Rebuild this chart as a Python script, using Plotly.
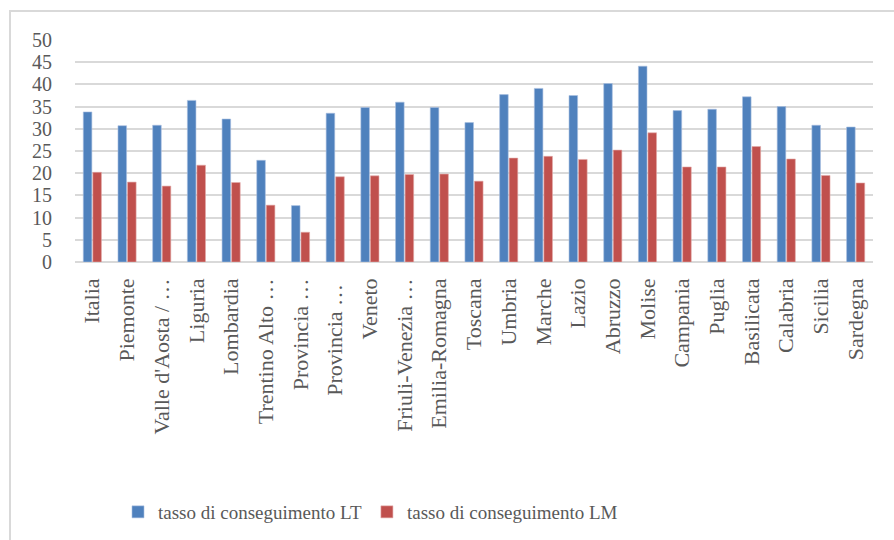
import plotly.graph_objects as go

categories = ["Italia", "Piemonte", "Valle d'Aosta / …", "Liguria", "Lombardia",
              "Trentino Alto …", "Provincia …", "Provincia … ", "Veneto",
              "Friuli-Venezia …", "Emilia-Romagna", "Toscana", "Umbria", "Marche",
              "Lazio", "Abruzzo", "Molise", "Campania", "Puglia", "Basilicata",
              "Calabria", "Sicilia", "Sardegna"]

tasso_LT = [33.8, 30.7, 30.8, 36.4, 32.2, 22.9, 12.7, 33.5, 34.8, 36.0, 34.8,
            31.4, 37.7, 39.1, 37.5, 40.2, 44.1, 34.1, 34.4, 37.2, 35.0, 30.8, 30.4]
tasso_LM = [20.2, 18.0, 17.1, 21.8, 17.9, 12.8, 6.7, 19.2, 19.4, 19.7, 19.8,
            18.2, 23.4, 23.8, 23.1, 25.2, 29.1, 21.4, 21.4, 26.0, 23.2, 19.5, 17.8]

series_names = ["tasso di conseguimento LT", "tasso di conseguimento LM"]
y_ticks = [0, 5, 10, 15, 20, 25, 30, 35, 40, 45, 50]

FONT = "Liberation Serif"
TXT = "#595959"

fig = go.Figure()
fig.add_trace(go.Bar(x=categories, y=tasso_LT, name=series_names[0],
                     marker=dict(color="#4f81bd", line=dict(color="#a9c0e0", width=0.6))))
fig.add_trace(go.Bar(x=categories, y=tasso_LM, name=series_names[1],
                     marker=dict(color="#c0504d", line=dict(color="#e3a9a7", width=0.6))))

L, R, T, B = 75, 21, 40, 278
W, H = 894, 540
pw, ph = W - L - R, H - T - B

def px(x):
    return (x - L) / pw

def py(y):
    return (H - B - y) / ph

fig.update_layout(
    width=W, height=H,
    margin=dict(l=L, r=R, t=T, b=B, autoexpand=False),
    paper_bgcolor="white", plot_bgcolor="white",
    barmode="group", bargap=0.45, bargroupgap=0.1,
    font=dict(family=FONT, color=TXT, size=22),
    showlegend=True,
    legend=dict(orientation="h", x=px(118), xanchor="left", y=py(512), yanchor="middle",
                font=dict(family=FONT, size=19, color=TXT), traceorder="normal",
                bgcolor="rgba(0,0,0,0)"),
    xaxis=dict(tickangle=-90, showgrid=False, showline=False, zeroline=False,
               ticks="", tickfont=dict(family=FONT, size=22, color=TXT),
               ticklabelstandoff=11, automargin=False, fixedrange=True),
    yaxis=dict(range=[0, 50], tickvals=y_ticks, showgrid=True, gridcolor="#d9d9d9",
               gridwidth=2, zeroline=True, zerolinecolor="#d9d9d9", zerolinewidth=2,
               showline=False, ticks="", tickfont=dict(family=FONT, size=20, color=TXT),
               ticklabelstandoff=22, automargin=False, fixedrange=True),
    shapes=[
        dict(type="line", xref="paper", yref="paper", x0=px(10), x1=px(920), y0=py(11), y1=py(11),
             line=dict(color="#d9d9d9", width=2)),
        dict(type="line", xref="paper", yref="paper", x0=px(10), x1=px(10), y0=py(10), y1=py(560),
             line=dict(color="#d9d9d9", width=2)),
    ],
)

fig.write_html("out.html", config={"displayModeBar": False},
               post_script="document.body.style.margin='0px';document.body.style.padding='0px';")
